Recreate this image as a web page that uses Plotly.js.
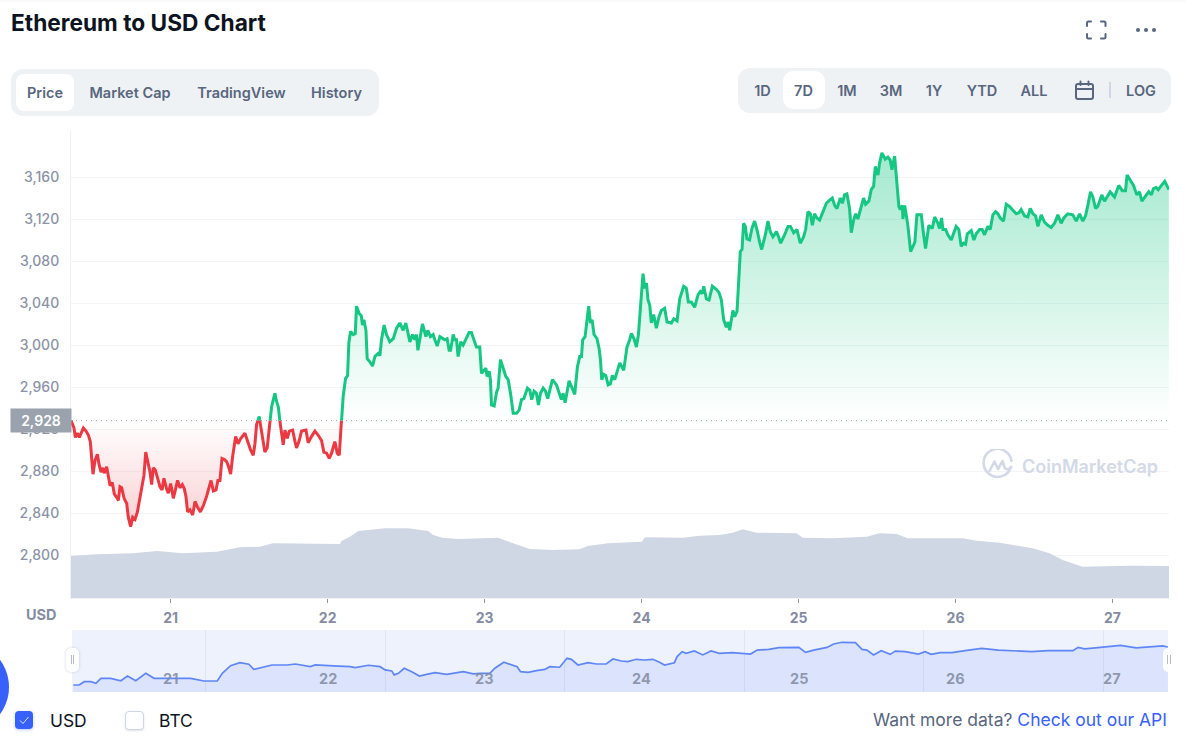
<!DOCTYPE html>
<html>
<head>
<meta charset="utf-8">
<script src="https://cdn.plot.ly/plotly-3.0.1.min.js"></script>
<style>
html,body{margin:0;padding:0;background:#fff;width:1186px;height:755px;overflow:hidden;font-family:Inter,"Noto Sans",sans-serif;}
#chart{position:absolute;left:0;top:0;width:1186px;height:755px;}
.ui{position:absolute;}
.c{position:absolute;transform:translate(-50%,-50%);white-space:nowrap;font-weight:600;font-size:14.500px;color:#58667e;}
</style>
</head>
<body>
<div id="chart"></div>

<div class="ui" style="left:0;top:0;width:1186px;height:2px;background:#fafafa"></div>
<svg class="ui" style="left:1085px;top:20px" width="22" height="20" viewBox="0 0 22 20" fill="none" stroke="#58667e" stroke-width="2" stroke-linecap="round">
<path d="M2 6V3a1.5 1.5 0 0 1 1.500-1.500H6M16 1.500h3A1.500 1.500 0 0 1 20.500 3V6M20.500 14v3a1.500 1.500 0 0 1-1.500 1.500H16M6 18.500H3.500A1.500 1.500 0 0 1 2 17V14"/></svg>
<svg class="ui" style="left:1135px;top:26px" width="22" height="8" viewBox="0 0 22 8" fill="#58667e"><circle cx="3" cy="4" r="2"/><circle cx="11" cy="4" r="2"/><circle cx="19" cy="4" r="2"/></svg>

<div class="ui" style="left:11px;top:69px;width:368px;height:47px;background:#eff2f5;border-radius:12px"></div>
<div class="ui" style="left:16px;top:74px;width:58px;height:37px;background:#fff;border-radius:8px"></div>
<div class="c" style="left:45px;top:92px">Price</div>
<div class="c" style="left:130px;top:92px">Market Cap</div>
<div class="c" style="left:241.500px;top:92px">TradingView</div>
<div class="c" style="left:336.500px;top:92px">History</div>

<div class="ui" style="left:738px;top:68px;width:433px;height:45px;background:#eff2f5;border-radius:12px"></div>
<div class="ui" style="left:783px;top:71px;width:42px;height:38px;background:#fff;border-radius:10px"></div>
<div class="c" style="left:762.500px;top:89.500px">1D</div>
<div class="c" style="left:803.500px;top:89.500px">7D</div>
<div class="c" style="left:847px;top:89.500px">1M</div>
<div class="c" style="left:891px;top:89.500px">3M</div>
<div class="c" style="left:934px;top:89.500px">1Y</div>
<div class="c" style="left:982px;top:89.500px">YTD</div>
<div class="c" style="left:1034px;top:89.500px">ALL</div>
<svg class="ui" style="left:1074px;top:80px" width="21" height="21" viewBox="0 0 21 21" fill="none" stroke="#58667e" stroke-width="2" stroke-linecap="round"><rect x="2" y="4" width="17" height="15" rx="2"/><path d="M2 9H19M6.500 1.500V5M14.500 1.500V5"/></svg>
<div class="ui" style="left:1109px;top:82px;width:1.500px;height:16px;background:#cfd6e4"></div>
<div class="c" style="left:1141px;top:89.500px">LOG</div>

<svg class="ui" style="left:982px;top:449px" width="32" height="32" viewBox="0 0 32 32" fill="none" stroke="#d3d9e6" stroke-width="2.600" stroke-linecap="round" stroke-linejoin="round">
<path d="M29 18A14 14 0 1 1 29.500 12"/><path d="M7.500 22L12.500 12.500L16 20L20.500 12L22.500 18.500C23.500 21 27 20.500 29 18"/></svg>

<div class="ui" style="left:66px;top:648px;width:13px;height:24px;background:#fff;border-radius:5px;box-shadow:0 0 3px rgba(120,130,160,.35)"></div>
<div class="ui" style="left:70.500px;top:655px;width:1px;height:9px;background:#b5bcc9"></div>
<div class="ui" style="left:73px;top:655px;width:1px;height:9px;background:#b5bcc9"></div>
<div class="ui" style="left:1163px;top:648px;width:8px;height:24px;background:#fff;border-radius:5px 0 0 5px"></div>
<div class="ui" style="left:1167px;top:655px;width:1px;height:9px;background:#b5bcc9"></div>
<div class="ui" style="left:1169.500px;top:655px;width:1px;height:9px;background:#b5bcc9"></div>

<div class="ui" style="left:-83px;top:641px;width:92px;height:92px;border-radius:50%;background:#3861fb"></div>

<div class="ui" style="left:15px;top:711px;width:18px;height:18px;border-radius:4px;background:#3861fb;box-shadow:0 1px 3px rgba(56,97,251,.35)"></div>
<svg class="ui" style="left:15px;top:711px" width="18" height="18" viewBox="0 0 18 18" fill="none" stroke="#dfe6ff" stroke-width="1"><path d="M5 9.500L8 12.500L13.500 6"/></svg>
<div class="ui" style="left:125px;top:711px;width:17px;height:17px;border-radius:4px;background:#fff;border:1px solid #cfd6e4;box-shadow:0 1px 2px rgba(128,138,157,.25)"></div>
<div class="ui" style="left:50px;top:711px;font-size:17.400px;line-height:20px;color:#0d1421;">USD</div>
<div class="ui" style="left:159px;top:711px;font-size:17.400px;line-height:20px;color:#0d1421;">BTC</div>
<div class="ui" style="right:19px;top:710px;font-size:17.500px;line-height:20px;color:#58667e;white-space:nowrap">Want more data? <span style="color:#3861fb">Check out our API</span></div>

<script>
const priceDays = [20.365,20.384,20.393,20.406,20.418,20.433,20.444,20.461,20.476,20.488,20.497,20.505,20.518,20.533,20.544,20.556,20.567,20.577,20.592,20.603,20.614,20.628,20.641,20.656,20.667,20.677,20.688,20.703,20.720,20.730,20.745,20.758,20.773,20.788,20.800,20.815,20.830,20.841,20.853,20.868,20.879,20.889,20.902,20.915,20.932,20.945,20.957,20.974,20.985,21.000,21.017,21.030,21.044,21.059,21.074,21.087,21.097,21.108,21.123,21.140,21.155,21.170,21.189,21.208,21.229,21.257,21.272,21.289,21.301,21.314,21.327,21.342,21.356,21.369,21.382,21.395,21.405,21.414,21.429,21.446,21.473,21.494,21.509,21.526,21.537,21.547,21.564,21.579,21.600,21.615,21.628,21.643,21.654,21.664,21.675,21.686,21.696,21.707,21.717,21.728,21.743,21.756,21.777,21.792,21.802,21.819,21.834,21.862,21.876,21.898,21.919,21.940,21.961,21.976,21.993,22.010,22.025,22.046,22.061,22.074,22.082,22.089,22.099,22.114,22.127,22.135,22.146,22.163,22.176,22.184,22.201,22.214,22.222,22.231,22.244,22.252,22.269,22.286,22.301,22.322,22.333,22.343,22.360,22.375,22.396,22.418,22.439,22.460,22.481,22.498,22.524,22.541,22.555,22.566,22.575,22.604,22.626,22.638,22.655,22.672,22.683,22.698,22.715,22.747,22.761,22.774,22.783,22.800,22.810,22.821,22.831,22.848,22.863,22.884,22.901,22.916,22.931,22.948,22.969,22.980,23.008,23.016,23.029,23.037,23.044,23.061,23.076,23.086,23.101,23.118,23.135,23.150,23.165,23.182,23.203,23.220,23.235,23.250,23.273,23.288,23.300,23.315,23.330,23.343,23.356,23.373,23.388,23.402,23.432,23.458,23.475,23.489,23.500,23.513,23.538,23.555,23.574,23.591,23.606,23.617,23.625,23.640,23.653,23.663,23.674,23.685,23.697,23.716,23.729,23.738,23.746,23.759,23.772,23.787,23.801,23.814,23.829,23.844,23.861,23.886,23.907,23.924,23.935,23.952,23.967,23.980,23.992,24.009,24.020,24.031,24.041,24.052,24.062,24.077,24.094,24.111,24.126,24.147,24.162,24.190,24.205,24.226,24.243,24.268,24.285,24.298,24.317,24.338,24.360,24.374,24.387,24.396,24.413,24.430,24.451,24.476,24.493,24.508,24.523,24.540,24.551,24.561,24.582,24.593,24.608,24.616,24.629,24.640,24.650,24.661,24.671,24.688,24.703,24.720,24.735,24.752,24.765,24.780,24.790,24.805,24.820,24.837,24.859,24.873,24.886,24.911,24.933,24.948,24.969,24.990,25.011,25.032,25.045,25.060,25.075,25.088,25.102,25.117,25.134,25.156,25.177,25.198,25.215,25.230,25.245,25.266,25.279,25.293,25.308,25.325,25.336,25.351,25.364,25.378,25.400,25.414,25.427,25.448,25.463,25.478,25.489,25.506,25.516,25.531,25.552,25.569,25.584,25.595,25.612,25.627,25.639,25.648,25.661,25.665,25.676,25.686,25.697,25.714,25.729,25.741,25.754,25.782,25.796,25.809,25.830,25.852,25.867,25.888,25.898,25.911,25.920,25.937,25.951,25.973,25.987,26.004,26.021,26.036,26.051,26.064,26.075,26.100,26.117,26.132,26.153,26.170,26.185,26.206,26.221,26.238,26.255,26.270,26.285,26.306,26.323,26.344,26.361,26.387,26.404,26.418,26.440,26.461,26.476,26.493,26.510,26.525,26.546,26.567,26.588,26.609,26.631,26.652,26.673,26.690,26.715,26.747,26.769,26.790,26.811,26.828,26.843,26.860,26.875,26.892,26.906,26.932,26.949,26.970,26.985,27.013,27.040,27.062,27.083,27.093,27.112,27.134,27.155,27.172,27.187,27.214,27.231,27.248,27.261,27.278,27.291,27.312,27.333,27.346,27.359];
const priceValues = [2928,2921,2912,2916,2912,2918,2921,2918,2914,2908,2894,2877,2890,2896,2886,2879,2883,2878,2884,2876,2866,2869,2858,2855,2852,2865,2864,2854,2849,2836,2827,2836,2834,2841,2852,2865,2876,2898,2889,2879,2867,2883,2881,2873,2865,2862,2873,2863,2859,2868,2854,2862,2871,2864,2867,2863,2856,2841,2843,2838,2851,2846,2841,2847,2856,2871,2861,2862,2871,2871,2892,2891,2889,2884,2877,2894,2902,2913,2906,2911,2916,2906,2900,2895,2906,2924,2932,2916,2898,2902,2921,2941,2948,2954,2946,2941,2927,2913,2905,2919,2911,2918,2919,2908,2902,2909,2918,2919,2907,2913,2918,2914,2909,2898,2897,2892,2897,2908,2897,2895,2922,2929,2951,2968,2971,3002,3013,3010,3011,3037,3030,3028,3019,3024,3014,2987,2984,2980,2989,2992,2990,3005,3019,3010,3003,3006,3016,3021,3014,3021,3003,3010,3005,3010,2995,3020,3008,3014,3008,3010,3005,2999,3008,3005,3006,2995,2995,3010,3005,3005,2989,3003,3000,3006,3012,3012,3006,2998,2998,2973,2978,2970,2975,2967,2943,2942,2955,2959,2986,2979,2970,2967,2954,2935,2935,2938,2948,2949,2959,2957,2948,2956,2954,2943,2954,2959,2956,2949,2967,2962,2954,2948,2954,2945,2966,2959,2953,2979,2989,2989,3005,3008,3024,3037,3021,3024,3010,3006,2997,2986,2967,2972,2971,2962,2963,2971,2967,2975,2983,2976,2998,3005,3011,3006,2998,3010,3037,3068,3054,3059,3043,3038,3021,3029,3016,3027,3033,3035,3022,3021,3025,3023,3044,3056,3054,3041,3041,3036,3048,3051,3049,3056,3044,3043,3056,3053,3050,3043,3024,3017,3022,3014,3033,3027,3032,3059,3089,3091,3116,3113,3101,3100,3111,3118,3110,3098,3091,3100,3106,3118,3108,3103,3108,3103,3097,3105,3113,3113,3107,3110,3097,3103,3110,3127,3125,3114,3125,3121,3119,3127,3135,3138,3140,3133,3130,3140,3135,3143,3144,3130,3107,3119,3125,3120,3133,3140,3134,3137,3148,3151,3170,3162,3173,3183,3177,3179,3176,3167,3180,3157,3132,3129,3133,3120,3133,3124,3113,3089,3095,3098,3124,3124,3106,3092,3114,3111,3122,3116,3111,3121,3110,3110,3105,3100,3106,3113,3110,3094,3097,3096,3106,3109,3100,3106,3110,3110,3105,3113,3110,3124,3127,3125,3121,3118,3134,3132,3129,3125,3126,3129,3123,3122,3130,3125,3123,3113,3124,3117,3114,3112,3116,3124,3116,3121,3125,3124,3118,3125,3118,3123,3133,3146,3141,3130,3132,3143,3137,3143,3146,3141,3152,3147,3147,3162,3157,3152,3143,3146,3137,3142,3146,3143,3149,3150,3148,3152,3156,3152,3148];

const volumeDays = [20.365,20.531,20.760,20.913,21.078,21.295,21.441,21.569,21.651,21.932,22.078,22.089,22.142,22.195,22.365,22.513,22.640,22.673,22.730,22.831,23.001,23.085,23.141,23.244,23.289,23.435,23.606,23.657,23.785,24.002,24.021,24.262,24.370,24.497,24.580,24.644,24.733,24.988,25.026,25.217,25.433,25.516,25.625,25.695,26.045,26.134,26.280,26.491,26.599,26.682,26.809,27.127,27.360];
const volumeValues = [42,43.7,44.7,47,44.7,46.3,50.7,51.3,54.7,54,54,57,61.3,67,69.7,69.7,67,63,60.3,59,59.7,60.3,57,51.3,49,48,48.7,52,54.7,56.3,60.7,60.3,62.3,63,65.3,68.7,65.3,64.7,60.3,59.7,61.3,64.7,64,59.7,59.7,57.3,55.3,49.700,44.7,38,31.3,32.3,32];

const navDays = [21.263,21.296,21.324,21.361,21.389,21.417,21.472,21.528,21.565,21.611,21.667,21.713,21.787,21.861,21.917,21.991,22.065,22.093,22.139,22.191,22.241,22.268,22.342,22.370,22.454,22.500,22.583,22.611,22.713,22.805,22.833,22.907,22.972,23.000,23.037,23.050,23.074,23.106,23.148,23.191,23.231,23.278,23.343,23.389,23.435,23.491,23.528,23.583,23.611,23.661,23.704,23.735,23.754,23.796,23.843,23.889,23.917,23.972,24.013,24.037,24.074,24.130,24.176,24.231,24.269,24.315,24.352,24.398,24.444,24.491,24.528,24.556,24.611,24.626,24.654,24.676,24.722,24.769,24.815,24.861,24.933,25.000,25.035,25.072,25.137,25.193,25.304,25.341,25.387,25.461,25.498,25.544,25.619,25.656,25.683,25.720,25.763,25.813,25.841,25.896,25.970,26.007,26.041,26.091,26.156,26.230,26.322,26.415,26.526,26.600,26.693,26.831,26.859,26.896,26.970,27.044,27.096,27.183,27.248,27.331,27.359];
const navValues = [2880,2880,2903,2903,2892,2927,2927,2910,2943,2910,2962,2927,2927,2927,2927,2908,2908,2962,3016,3037,3026,2990,3009,3021,3021,3028,3009,3021,3014,3009,3002,3019,3009,2986,2979,2951,2962,2998,2974,2943,2955,2967,2955,2967,2974,2958,2962,2962,2998,3040,3021,3009,2974,2969,2981,2990,3009,3005,3068,3061,3021,3037,3028,3028,3063,3049,3045,3061,3056,3061,3040,3021,3037,3080,3115,3103,3120,3092,3120,3103,3108,3103,3098,3126,3131,3143,3145,3110,3126,3145,3169,3181,3178,3131,3126,3091,3122,3096,3119,3115,3098,3115,3096,3108,3108,3122,3138,3126,3119,3115,3122,3122,3145,3134,3143,3150,3159,3141,3145,3155,3148];

const baselinePrice = 2928;
const priceTicks = [2800,2840,2880,2920,2960,3000,3040,3080,3120,3160];
const dayTicks = [21,22,23,24,25,26,27];
const navGridDays = [22,23,24,25,26,27];

const W = 1186, H = 755;
const FONT = 'Inter, "Noto Sans", sans-serif';
const px = v => v / W, py = v => 1 - v / H;
const GREEN = '#16c784', RED = '#ea3943';

// split the price line where it crosses the baseline
const xs = [], ys = [];
for (let i = 0; i < priceDays.length; i++) {
  xs.push(priceDays[i]); ys.push(priceValues[i]);
  if (i + 1 < priceDays.length) {
    const a = priceValues[i] - baselinePrice, b = priceValues[i + 1] - baselinePrice;
    if (a * b < 0) {
      xs.push(priceDays[i] + (priceDays[i + 1] - priceDays[i]) * a / (a - b));
      ys.push(baselinePrice);
    }
  }
}
const baseX = [xs[0], xs[xs.length - 1]], baseY = [baselinePrice, baselinePrice];
const baseTrace = {x: baseX, y: baseY, mode: 'lines', line: {width: 0}, xaxis: 'x', yaxis: 'y', hoverinfo: 'skip', showlegend: false};

const traces = [
  baseTrace,
  {x: xs, y: ys.map(v => Math.max(v, baselinePrice)), mode: 'lines', line: {width: 0}, fill: 'tonexty',
   fillgradient: {type: 'vertical', start: baselinePrice, stop: 3190,
     colorscale: [[0, 'rgba(22,199,132,0)'], [1, 'rgba(22,199,132,0.4)']]}, xaxis: 'x', yaxis: 'y', showlegend: false},
  baseTrace,
  {x: xs, y: ys.map(v => Math.min(v, baselinePrice)), mode: 'lines', line: {width: 0}, fill: 'tonexty',
   fillgradient: {type: 'vertical', start: baselinePrice, stop: 2827,
     colorscale: [[0, 'rgba(234,57,67,0)'], [1, 'rgba(234,57,67,0.24)']]}, xaxis: 'x', yaxis: 'y', showlegend: false},
  {x: xs, y: ys.map(v => v >= baselinePrice ? v : null), mode: 'lines', line: {color: GREEN, width: 3}, connectgaps: false, xaxis: 'x', yaxis: 'y', showlegend: false},
  {x: xs, y: ys.map(v => v <= baselinePrice ? v : null), mode: 'lines', line: {color: RED, width: 3}, connectgaps: false, xaxis: 'x', yaxis: 'y', showlegend: false},
  {x: volumeDays, y: volumeValues, mode: 'lines', line: {width: 0}, fill: 'tozeroy', fillcolor: '#cfd6e4', xaxis: 'x', yaxis: 'y2', showlegend: false},
  {x: navDays, y: navValues, mode: 'lines', line: {color: '#5f86f7', width: 1.7}, fill: 'tozeroy', fillcolor: 'rgba(56,97,251,0.1)', xaxis: 'x2', yaxis: 'y3', showlegend: false}
];

const navLabels = dayTicks.map(d => ({
  text: String(d), xref: 'x', x: d, xanchor: 'center', yref: 'paper', y: py(678), yanchor: 'middle', showarrow: false,
  font: {family: FONT, size: 14.5, weight: 700, color: 'rgba(128,138,157,0.85)'}
}));

const layout = {
  width: W, height: H,
  margin: {l: 0, r: 0, t: 0, b: 0},
  paper_bgcolor: 'rgba(0,0,0,0)', plot_bgcolor: 'rgba(0,0,0,0)',
  showlegend: false, hovermode: false,
  font: {family: FONT},
  title: {text: 'Ethereum to USD Chart', x: px(11), xref: 'paper', xanchor: 'left', y: py(23), yanchor: 'middle',
    font: {family: FONT, size: 22.7, weight: 700, color: '#0d1421'}},
  xaxis: {domain: [px(71), px(1169)], range: [20.365, 27.36], tickmode: 'array', tickvals: dayTicks, ticktext: dayTicks.map(String),
    showgrid: false, zeroline: false, showline: true, linecolor: '#eff2f5', linewidth: 1,
    ticks: 'outside', ticklen: 4, tickwidth: 1, tickcolor: '#8c94a5', ticklabelstandoff: 3, anchor: 'y',
    tickfont: {family: FONT, size: 14, weight: 700, color: '#858ca2'}},
  yaxis: {domain: [py(598), py(130)], range: [2759.05, 3204.8], tickmode: 'array', tickvals: priceTicks, tickformat: ',',
    showgrid: true, gridcolor: '#f3f4f6', gridwidth: 1, zeroline: false, showline: true, linecolor: '#eff2f5', linewidth: 1,
    ticks: '', ticklabelstandoff: 8, anchor: 'x',
    tickfont: {family: FONT, size: 14, weight: 500, color: '#8b93a6'}},
  yaxis2: {domain: [py(598), py(130)], range: [0, 468], overlaying: 'y', anchor: 'x', side: 'right', visible: false, showgrid: false, zeroline: false, fixedrange: true},
  xaxis2: {domain: [px(72), px(1168)], range: [21.256, 27.36], anchor: 'y3', tickmode: 'array', tickvals: navGridDays,
    showticklabels: false, ticks: '', showgrid: true, gridcolor: '#dfe5f5', gridwidth: 1, zeroline: false, showline: false},
  yaxis3: {domain: [py(692), py(630)], range: [2830.5, 3267.6], anchor: 'x2', showgrid: false, zeroline: false, showline: false, showticklabels: false, ticks: ''},
  shapes: [
    {type: 'rect', xref: 'paper', yref: 'paper', x0: px(72), x1: px(1168), y0: py(692), y1: py(630), fillcolor: '#eef2fd', line: {width: 0}, layer: 'below'},
    {type: 'line', xref: 'paper', yref: 'y', x0: px(71), x1: px(1169), y0: baselinePrice, y1: baselinePrice, line: {color: '#9aa0ab', width: 1, dash: '1px,4px'}}
  ],
  annotations: [
    {text: baselinePrice.toLocaleString('en-US'), xref: 'paper', x: px(41), xanchor: 'center', yref: 'y', y: baselinePrice, yanchor: 'middle', showarrow: false,
     width: 60, height: 23, bgcolor: '#9aa2ae', borderpad: 0, font: {family: FONT, size: 14, weight: 600, color: '#ffffff'}},
    {text: 'USD', xref: 'paper', x: px(41), xanchor: 'center', yref: 'paper', y: py(614), yanchor: 'middle', showarrow: false,
     font: {family: FONT, size: 14.5, weight: 700, color: '#858ca2'}},
    {text: 'CoinMarketCap', xref: 'paper', x: px(1090), xanchor: 'center', yref: 'paper', y: py(466), yanchor: 'middle', showarrow: false,
     font: {family: FONT, size: 18, weight: 600, color: '#d3d9e6'}}
  ].concat(navLabels)
};

Plotly.newPlot('chart', traces, layout, {displayModeBar: false, staticPlot: true, responsive: false});
</script>
</body>
</html>
